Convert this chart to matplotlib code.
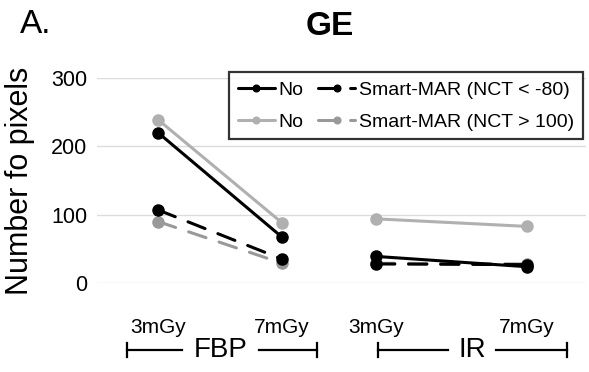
import matplotlib
matplotlib.use("Agg")
import matplotlib.pyplot as plt
import matplotlib.transforms as mtransforms

plt.rcParams['font.family'] = ['Liberation Sans', 'DejaVu Sans']

# data
doses = ['3mGy', '7mGy', '3mGy', '7mGy']
x_pos = [1.0, 2.0, 2.76, 3.97]   # uneven spacing as in the original
groups = ['FBP', 'IR']

no_black = [220, 67, 39, 24]
no_gray = [239, 88, 94, 83]
mar_low = [107, 35, 28, 27]      # Smart-MAR (NCT < -80)
mar_high = [90, 29, 29, 28]      # Smart-MAR (NCT > 100)

yticks = [0, 100, 200, 300]

fig = plt.figure(figsize=(5.89, 3.72), dpi=100)
ax = fig.add_axes([0.165, 0.239, 0.83, 0.551])

dash = (0, (6, 4.5))
lw = 2.2
ms = 8

series = [
    (no_black, 'black', '-', 'No'),
    (no_gray, '#b0b0b0', '-', 'No'),
    (mar_low, 'black', dash, 'Smart-MAR (NCT < -80)'),
    (mar_high, '#999999', dash, 'Smart-MAR (NCT > 100)'),
]
# gray dashed first so the black ones sit on top
handles = [None] * 4
for k in [3, 2, 1, 0]:
    vals, col, ls, lab = series[k]
    for i0, i1 in [(0, 1), (2, 3)]:
        h, = ax.plot([x_pos[i0], x_pos[i1]], [vals[i0], vals[i1]],
                     color=col, linestyle=ls, linewidth=lw,
                     marker='o', markersize=ms, label=lab, clip_on=False,
                     dash_capstyle='round', solid_capstyle='round')
    handles[k] = h

ax.set_ylim(0, 300)
ax.set_xlim(0.508, 4.45)
ax.set_yticks(yticks)
ax.set_xticks(x_pos)
ax.set_xticklabels(doses)
ax.tick_params(axis='y', length=0, pad=7, labelsize=15.5)
ax.tick_params(axis='x', length=0, pad=25, labelsize=15)
ax.grid(axis='y', color='#dcdcdc', linewidth=1)
ax.set_axisbelow(True)
for s in ax.spines.values():
    s.set_visible(False)

ax.set_ylabel('Number fo pixels', fontsize=22)
ax.yaxis.set_label_coords(-0.128, 0.5)

# group brackets below the dose labels
trans = mtransforms.blended_transform_factory(ax.transData, fig.transFigure)
yb = 1 - 350 / 372
brackets = [(0.75, 2.28, 1.5, 0.31), (2.77, 4.30, 3.53, 0.19)]
for (x0, x1, xc, half), name in zip(brackets, groups):
    ax.plot([x0, xc - half], [yb, yb], color='black', lw=1.6, transform=trans, clip_on=False)
    ax.plot([xc + half, x1], [yb, yb], color='black', lw=1.6, transform=trans, clip_on=False)
    for xe in (x0, x1):
        ax.plot([xe, xe], [yb - 0.018, yb + 0.018], color='black', lw=1.6,
                transform=trans, clip_on=False)
    ax.text(xc, yb, name, transform=trans, ha='center', va='center', fontsize=20)

leg = ax.legend(handles=handles, ncol=2, loc='upper right',
                bbox_to_anchor=(0.99, 0.806), bbox_transform=fig.transFigure,
                fontsize=14, frameon=True, fancybox=False, markerscale=0.6,
                handlelength=1.9, handletextpad=0.2, columnspacing=0.75,
                borderpad=0.45, labelspacing=0.75, borderaxespad=0)
leg.get_frame().set_edgecolor('black')
leg.get_frame().set_linewidth(1.6)

fig.text(0.56, 0.93, 'GE', fontsize=24, fontweight='bold', ha='center', va='center')
fig.text(0.034, 0.935, 'A.', fontsize=24, ha='left', va='center')

fig.savefig('out.png', dpi=100)
